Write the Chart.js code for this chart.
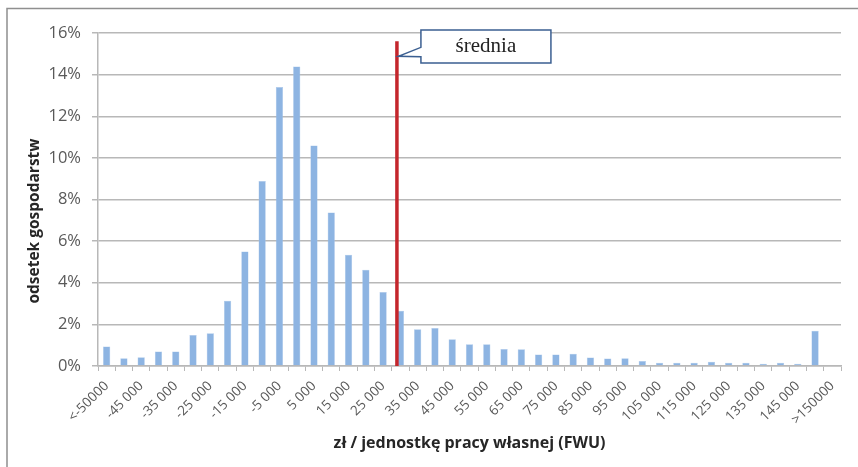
<!DOCTYPE html>
<html>
<head>
<meta charset="utf-8">
<script src="https://cdn.jsdelivr.net/npm/chart.js@4/dist/chart.umd.min.js"></script>
<style>
  html, body { margin: 0; padding: 0; background: #fff; }
  #wrap { width: 858px; height: 467px; }
</style>
</head>
<body>
<div id="wrap"><canvas id="incomeChart"></canvas></div>
<script>
// bins of income per family work unit (zł / FWU)
const bins = [
  '<-50000', '-50 000', '-45 000', '-40 000', '-35 000', '-30 000', '-25 000', '-20 000',
  '-15 000', '-10 000', '-5 000', '0', '5 000', '10 000', '15 000', '20 000',
  '25 000', '30 000', '35 000', '40 000', '45 000', '50 000', '55 000', '60 000',
  '65 000', '70 000', '75 000', '80 000', '85 000', '90 000', '95 000', '100 000',
  '105 000', '110 000', '115 000', '120 000', '125 000', '130 000', '135 000', '140 000',
  '145 000', '150 000', '>150000'
];

// share of farms in each bin (%)
const shares = [
  0.94, 0.37, 0.42, 0.70, 0.70, 1.49, 1.57, 3.14,
  5.50, 8.89, 13.40, 14.39, 10.59, 7.37, 5.34, 4.63,
  3.56, 2.66, 1.77, 1.82, 1.28, 1.04, 1.04, 0.82,
  0.80, 0.55, 0.55, 0.59, 0.41, 0.36, 0.37, 0.24,
  0.16, 0.16, 0.16, 0.21, 0.16, 0.16, 0.11, 0.16,
  0.11, 1.69, 0
];

// mean income and height of the marker line (%)
const meanValue = 29000;
const meanLineTop = 15.6;
const meanLabel = 'średnia';
const yTitle = 'odsetek gospodarstw';

const binStart = -55000;   // value behind index 0
const binStep = 5000;

const grey = '#b8b8b8';

// red mean line + callout, outer frame, y title
const extras = {
  id: 'extras',
  beforeDraw(chart) {
    const ctx = chart.ctx;
    ctx.save();
    ctx.fillStyle = '#fff';
    ctx.fillRect(0, 0, chart.width, chart.height);
    ctx.strokeStyle = '#8f8f8f';
    ctx.lineWidth = 1.5;
    ctx.beginPath();
    ctx.moveTo(7, chart.height);
    ctx.lineTo(7, 8.5);
    ctx.lineTo(chart.width, 8.5);
    ctx.stroke();

    // y title sits a bit below the axis middle, as in the original
    ctx.translate(35, 221);
    ctx.rotate(-Math.PI / 2);
    ctx.fillStyle = '#262626';
    ctx.font = 'bold 15.5px "Open Sans"';
    ctx.textAlign = 'center';
    ctx.textBaseline = 'middle';
    ctx.fillText(yTitle, 0, 0);
    ctx.restore();
  },
  afterDatasetsDraw(chart) {
    const ctx = chart.ctx;
    const xs = chart.scales.x, ys = chart.scales.y;
    const px = xs.getPixelForValue((meanValue - binStart) / binStep);
    const top = ys.getPixelForValue(meanLineTop);

    ctx.save();
    ctx.strokeStyle = '#c4262c';
    ctx.lineWidth = 3.5;
    ctx.beginPath();
    ctx.moveTo(px, ys.getPixelForValue(0));
    ctx.lineTo(px, top);
    ctx.stroke();

    // callout box
    const bl = px + 24, br = px + 154;
    const bt = ys.getPixelForValue(16) - 3, bb = bt + 33;
    const tipY = top + 15;
    ctx.beginPath();
    ctx.moveTo(bl, bt);
    ctx.lineTo(br, bt);
    ctx.lineTo(br, bb);
    ctx.lineTo(bl, bb);
    ctx.lineTo(bl, tipY + 0.5);
    ctx.lineTo(px + 1.5, tipY);
    ctx.lineTo(bl, tipY - 9);
    ctx.closePath();
    ctx.fillStyle = '#fff';
    ctx.fill();
    ctx.strokeStyle = '#3b5f91';
    ctx.lineWidth = 1.5;
    ctx.stroke();

    ctx.fillStyle = '#222';
    ctx.font = '21px "Liberation Serif"';
    ctx.textAlign = 'center';
    ctx.textBaseline = 'middle';
    ctx.fillText(meanLabel, (bl + br) / 2, (bt + bb) / 2);
    ctx.restore();
  }
};

const data = {
  labels: bins,
  datasets: [{
    label: yTitle,
    data: shares,
    backgroundColor: '#8db4e2',
    borderColor: '#a9c6ea',
    borderWidth: 0.5,
    barPercentage: 0.42,
    categoryPercentage: 1
  }]
};

const config = {
  type: 'bar',
  data,
  options: {
    responsive: true,
    maintainAspectRatio: false,
    animation: false,
    layout: { padding: { left: 18, right: 17, top: 33, bottom: 0 } },
    plugins: {
      legend: { display: false },
      tooltip: { enabled: false }
    },
    scales: {
      x: {
        grid: {
          offset: true,
          drawOnChartArea: false,
          drawTicks: true,
          tickLength: 5,
          color: grey
        },
        border: { color: grey, width: 1.5 },
        ticks: {
          autoSkip: false,
          maxRotation: 45,
          minRotation: 45,
          padding: 7,
          color: '#595959',
          font: { family: 'Open Sans', size: 13.5 },
          callback: (v, i) => i % 2 === 0 ? bins[i] : ''
        },
        title: {
          display: true,
          text: 'zł / jednostkę pracy własnej (FWU)',
          color: '#262626',
          font: { family: 'Open Sans', size: 16, weight: 'bold' },
          padding: { top: 4, bottom: 14 }
        },
        afterFit: (scale) => { scale.height = 101; }
      },
      y: {
        min: 0,
        max: 16,
        grid: {
          color: grey,
          lineWidth: 1.5,
          tickLength: 6
        },
        border: { color: grey, width: 1.5 },
        ticks: {
          stepSize: 2,
          padding: 11,
          color: '#595959',
          font: { family: 'Open Sans', size: 16.5 },
          callback: (v) => v + '%'
        },
        afterFit: (scale) => { scale.width = 80; }
      }
    }
  },
  plugins: [extras]
};

const incomeChart = new Chart(document.getElementById('incomeChart'), config);
</script>
</body>
</html>
